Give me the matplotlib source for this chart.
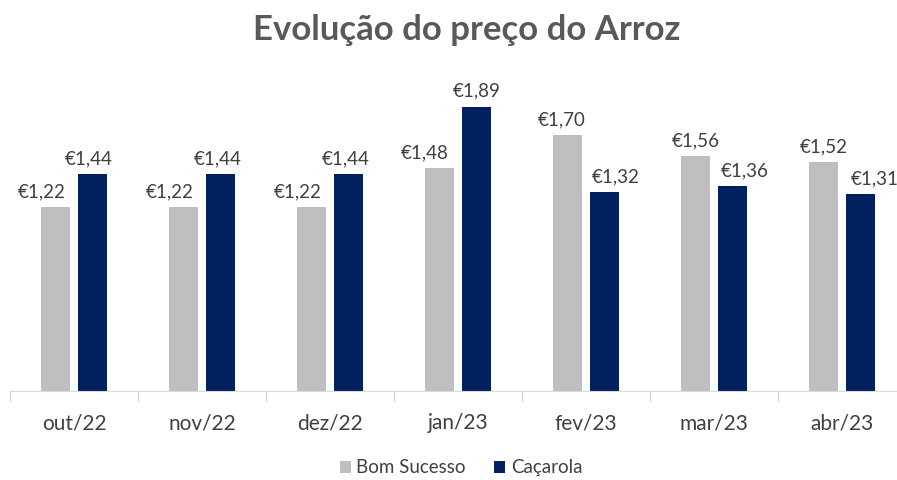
import numpy as np
import matplotlib.pyplot as plt
from matplotlib.ticker import FixedLocator

plt.rcParams['font.family'] = ['Lato', 'DejaVu Sans']

months = ['out/22', 'nov/22', 'dez/22', 'jan/23', 'fev/23', 'mar/23', 'abr/23']
bom_sucesso = [1.22, 1.22, 1.22, 1.48, 1.70, 1.56, 1.52]
cacarola = [1.44, 1.44, 1.44, 1.89, 1.32, 1.36, 1.31]

# horizontal nudges of the value labels (pixels), as placed in the original
shift_bom = [-14, -14, -14, -15, -6, 0, 0]
shift_cac = [-4, -3, -3, 0, 11, 12, 14]

grey = '#BFBFBF'
navy = '#002060'
text_col = '#404040'

fig = plt.figure(figsize=(8.97, 4.8), dpi=100)
ax = fig.add_axes([10 / 897, 89 / 480, 896 / 897, 331 / 480])

x = np.arange(len(months))
w = 0.225
off = 0.143
b1 = ax.bar(x - off, bom_sucesso, w, color=grey, label='Bom Sucesso')
b2 = ax.bar(x + off, cacarola, w, color=navy, label='Caçarola')

for bars, vals, shifts in ((b1, bom_sucesso, shift_bom), (b2, cacarola, shift_cac)):
    for rect, v, dx in zip(bars, vals, shifts):
        ax.annotate('€' + f'{v:.2f}'.replace('.', ','),
                    (rect.get_x() + rect.get_width() / 2, v),
                    xytext=(dx * 0.72, 5), textcoords='offset points',
                    ha='center', va='bottom', fontsize=13.5, color=text_col,
                    annotation_clip=False)

ax.set_xlim(-0.5, len(months) - 0.5)
ax.set_ylim(0, 2.2)
ax.set_yticks([])
ax.set_xticks(x)
ax.set_xticklabels(months, fontsize=15, color=text_col)
ax.tick_params(axis='x', which='major', length=0, pad=16)
ax.xaxis.set_minor_locator(FixedLocator(np.arange(-0.5, len(months), 1)))
ax.tick_params(axis='x', which='minor', length=7, color='#D9D9D9', width=1)

for s in ['top', 'right', 'left']:
    ax.spines[s].set_visible(False)
ax.spines['bottom'].set_color('#D9D9D9')

fig.suptitle('Evolução do preço do Arroz', x=0.52, y=0.97, fontsize=25,
             fontweight='bold', color='#595959')

fig.legend(handles=[b1, b2], loc='lower center', bbox_to_anchor=(0.514, 0.008),
           ncol=2, frameon=False, fontsize=13.5, handlelength=0.6,
           handleheight=0.6, handletextpad=0.3, columnspacing=1.5,
           borderpad=0, borderaxespad=0, labelcolor=text_col)

fig.savefig('out.png', dpi=100)
